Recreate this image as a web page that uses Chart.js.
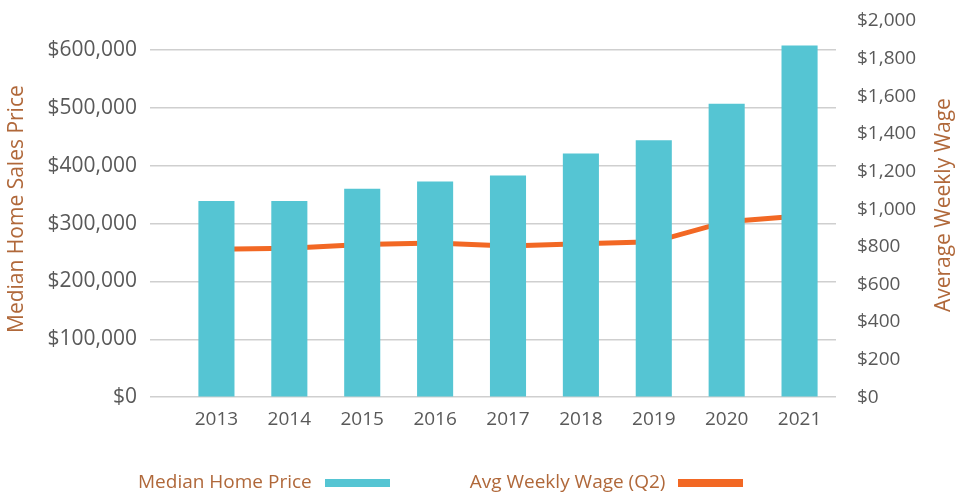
<!DOCTYPE html>
<html>
<head>
<meta charset="UTF-8">
<title>Median Home Price vs Avg Weekly Wage</title>
<script src="https://cdn.jsdelivr.net/npm/chart.js@4/dist/chart.umd.min.js"></script>
<style>
    body { margin: 0; background: #fff; }
    #wrap { position: relative; width: 955px; height: 496px; }
    #legenda {
        position: absolute; left: 138px; top: 467px;
        font-family: "Open Sans", sans-serif; font-size: 19px; line-height: 24px;
        color: #b0683a; white-space: nowrap;
    }
    #legenda .item { display: inline-block; vertical-align: middle; }
    #legenda .item + .item { margin-left: 80px; }
    #legenda .caixa { display: inline-block; width: 65px; height: 8px; margin-left: 13px; vertical-align: middle; }
</style>
</head>
<body>
<div id="wrap">
    <canvas id="grafico" width="955" height="496"></canvas>
    <div id="legenda"></div>
</div>
<script>
    // dados
    var anos = ["2013", "2014", "2015", "2016", "2017", "2018", "2019", "2020", "2021"];
    var precoMediano = [339000, 339000, 360000, 372500, 383000, 421000, 444000, 507000, 607500];
    var salarioSemanal = [787, 792, 812, 820, 804, 816, 826, 933, 963];
    var ticksPreco = [0, 100000, 200000, 300000, 400000, 500000, 600000];

    var corBarra = "#55c5d3";
    var corLinha = "#f26824";
    var corTitulo = "#b0683a";
    var corTexto = "#595959";
    var corGrade = "#cfcfcf";

    function dinheiro(v) {
        return "$" + Number(v).toLocaleString("en-US");
    }

    // largura fixa dos eixos e sem folga automática em cima
    function ajustaEixo(largura) {
        return function(scale) {
            scale.width = largura;
            scale.paddingTop = 0;
            scale.paddingBottom = 0;
        };
    }

    // título do eixo direito: lido de baixo para cima
    var tituloDireita = {
        id: "tituloDireita",
        afterDraw: function(chart) {
            var s = chart.scales.y1;
            var t = s.options.title;
            var fs = t.font.size;
            var lh = fs * 1.2;
            var ctx = chart.ctx;
            ctx.save();
            ctx.translate(s.right - t.padding.top - lh / 2 + 2, (s.top + s.bottom) / 2 - 4);
            ctx.rotate(-Math.PI / 2);
            ctx.font = fs + 'px "Open Sans"';
            ctx.fillStyle = corTitulo;
            ctx.textAlign = "center";
            ctx.textBaseline = "middle";
            ctx.fillText(t.text, 0, 0);
            ctx.restore();
        }
    };

    var ctx = document.getElementById("grafico").getContext("2d");
    var grafico = new Chart(ctx, {
        type: "bar",
        data: {
            labels: anos,
            datasets: [
                {
                    label: "Median Home Price",
                    data: precoMediano,
                    backgroundColor: corBarra,
                    yAxisID: "y",
                    barPercentage: 0.5,
                    categoryPercentage: 0.99,
                    order: 1
                },
                {
                    type: "line",
                    label: "Avg Weekly Wage (Q2)",
                    data: salarioSemanal,
                    borderColor: corLinha,
                    backgroundColor: corLinha,
                    borderWidth: 5,
                    pointRadius: 0,
                    tension: 0,
                    yAxisID: "y1",
                    order: 2
                }
            ]
        },
        options: {
            responsive: false,
            animation: false,
            layout: { padding: { top: 21, bottom: 54, left: 0, right: 0 } },
            plugins: {
                legend: { display: false },
                tooltip: { enabled: false }
            },
            scales: {
                x: {
                    grid: { display: false, drawTicks: false },
                    border: { display: false },
                    ticks: { color: corTexto, font: { family: "Open Sans", size: 19 }, padding: 11 }
                },
                y: {
                    position: "left",
                    min: 0,
                    max: 650000,
                    afterBuildTicks: function(scale) {
                        scale.ticks = ticksPreco.map(function(v) { return { value: v }; });
                    },
                    afterFit: ajustaEixo(180),
                    grid: { color: corGrade, lineWidth: 1.5, drawTicks: true, tickLength: 30, tickColor: corGrade },
                    border: { display: false },
                    ticks: {
                        padding: 13,
                        color: corTexto,
                        font: { family: "Open Sans", size: 21 },
                        callback: dinheiro
                    },
                    title: {
                        display: true,
                        text: "Median Home Sales Price",
                        color: corTitulo,
                        font: { family: "Open Sans", size: 21 },
                        padding: { top: 4, bottom: 19 }
                    }
                },
                y1: {
                    position: "right",
                    min: 0,
                    max: 2000,
                    afterFit: ajustaEixo(119),
                    grid: { display: false, drawTicks: false },
                    border: { display: false },
                    ticks: {
                        stepSize: 200,
                        padding: 21,
                        color: corTexto,
                        font: { family: "Open Sans", size: 19 },
                        callback: dinheiro
                    },
                    title: {
                        display: true,
                        text: "Average Weekly Wage",
                        color: "rgba(0,0,0,0)",
                        font: { family: "Open Sans", size: 21 },
                        padding: { top: 0, bottom: 0 }
                    }
                }
            }
        },
        plugins: [tituloDireita]
    });

    // legenda em HTML: texto primeiro, depois a amostra de cor
    var legenda = document.getElementById("legenda");
    grafico.data.datasets.forEach(function(ds) {
        var item = document.createElement("span");
        item.className = "item";
        var texto = document.createElement("span");
        texto.textContent = ds.label;
        var caixa = document.createElement("span");
        caixa.className = "caixa";
        caixa.style.background = ds.type === "line" ? ds.borderColor : ds.backgroundColor;
        item.appendChild(texto);
        item.appendChild(caixa);
        legenda.appendChild(item);
    });
</script>
</body>
</html>
